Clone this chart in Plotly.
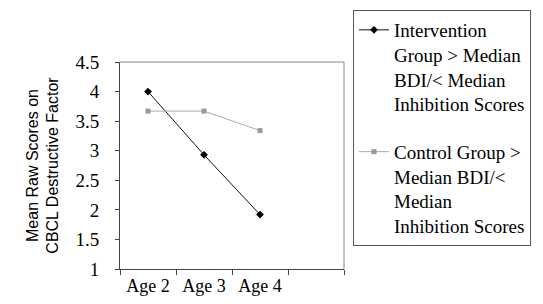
import plotly.graph_objects as go

categories = ["Age 2", "Age 3", "Age 4"]
intervention = [4.0, 2.93, 1.92]
control = [3.67, 3.67, 3.34]
series_names = [
    "Intervention<br>Group &gt; Median<br>BDI/&lt; Median<br>Inhibition Scores",
    "Control Group &gt;<br>Median BDI/&lt;<br>Median<br>Inhibition Scores",
]
y_ticks = [1, 1.5, 2, 2.5, 3, 3.5, 4, 4.5]
y_tick_labels = ["1", "1.5", "2", "2.5", "3", "3.5", "4", "4.5"]

serif = "Liberation Serif, Times New Roman, serif"
sans = "Liberation Sans, Arial, sans-serif"

# page body has an 8px default margin, so the figure is sized to fit the window
W, H = 535, 296

fig = go.Figure()
fig.add_trace(go.Scatter(
    x=categories, y=intervention, name=series_names[0], mode="lines+markers",
    line=dict(color="#111111", width=1),
    marker=dict(symbol="diamond", size=6, color="#000000"),
    legendgroup="a",
))
fig.add_trace(go.Scatter(
    x=categories, y=control, name=series_names[1], mode="lines+markers",
    line=dict(color="#aaaaaa", width=1),
    marker=dict(symbol="square", size=5, color="#999999"),
    legendgroup="b",
))
# empty fourth category slot
fig.add_trace(go.Scatter(x=[" "], y=[None], mode="markers", showlegend=False,
                         hoverinfo="skip"))

fig.update_layout(
    width=W, height=H,
    margin=dict(l=112, r=199, t=54, b=35, autoexpand=False),
    paper_bgcolor="white", plot_bgcolor="white",
    showlegend=True,
    legend=dict(
        xref="container", yref="container",
        x=345 / W, y=1 - 2 / H, xanchor="left", yanchor="top",
        bordercolor="#555555", borderwidth=1,
        font=dict(family=serif, size=19, color="#000000"),
        tracegroupgap=20,
        valign="top",
        maxheight=300,
        entrywidth=150, entrywidthmode="pixels",
        bgcolor="white",
    ),
    xaxis=dict(
        type="category", automargin=False,
        categoryorder="array", categoryarray=categories + [" "],
        range=[-0.5, 3.5],
        tickson="boundaries", ticks="outside", ticklen=5, tickcolor="#444444",
        showline=True, linecolor="#444444", linewidth=1,
        showgrid=False, zeroline=False,
        tickfont=dict(family=serif, size=18, color="#000000"),
    ),
    yaxis=dict(
        range=[1, 4.5], automargin=False,
        tickvals=y_ticks, ticktext=y_tick_labels,
        ticks="outside", ticklen=4, tickcolor="#444444",
        ticklabelstandoff=12,
        showline=True, linecolor="#444444", linewidth=1,
        showgrid=False, zeroline=False,
        tickfont=dict(family=serif, size=19, color="#000000"),
        title=dict(text="Mean Raw Scores on<br>CBCL Destructive Factor",
                   font=dict(family=sans, size=16, color="#000000"),
                   standoff=12),
    ),
    shapes=[
        dict(type="line", xref="paper", yref="paper", x0=0, x1=1, y0=1, y1=1,
             line=dict(color="#888888", width=1)),
        dict(type="line", xref="paper", yref="paper", x0=1, x1=1, y0=0, y1=1,
             line=dict(color="#888888", width=1)),
    ],
)

fig.write_html("out.html")
